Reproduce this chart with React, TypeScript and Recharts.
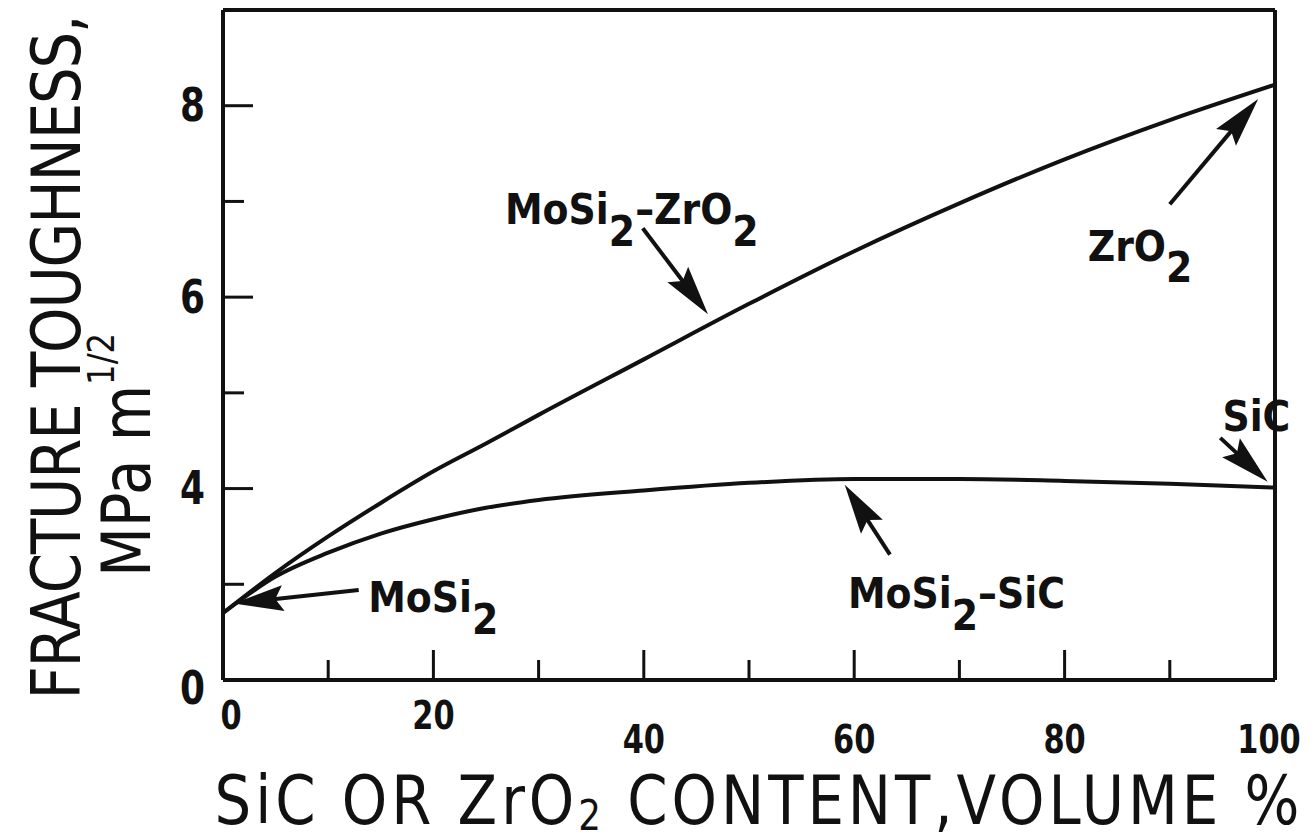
import { LineChart, Line, XAxis, YAxis, ReferenceLine, ReferenceDot, Label } from "recharts";

// volume % of second phase
const contentPct = [0, 5, 10, 15, 20, 25, 30, 40, 50, 60, 70, 80, 90, 100];
// fracture toughness, MPa m^1/2
const zro2Toughness = [2.7, 3.12, 3.5, 3.85, 4.18, 4.47, 4.77, 5.35, 5.93, 6.48, 6.98, 7.44, 7.85, 8.22];
const sicToughness = [2.7, 3.08, 3.33, 3.53, 3.68, 3.8, 3.88, 3.98, 4.06, 4.1, 4.1, 4.08, 4.05, 4.01];

const xTicks = [0, 10, 20, 30, 40, 50, 60, 70, 80, 90, 100];
const xTickLabels = ["0", "", "20", "", "40", "", "60", "", "80", "", "100"];
// the axis is broken below 3: the bottom edge carries the "0" label
const yTicks = [2, 3, 4, 5, 6, 7, 8];
const yTickLabels = ["0", "", "4", "", "6", "", "8"];

const data = contentPct.map((x, i) => ({ x, zro2: zro2Toughness[i], sic: sicToughness[i] }));

const FONT = "'DejaVu Sans', sans-serif";
const INK = "#111";
// no condensed face installed, so glyphs are squeezed horizontally
const SQUEEZE = 0.78;
const TITLE_SQUEEZE = 0.85;

const XTick = (p: any) => {
  const v = p.payload.value;
  const label = xTickLabels[xTicks.indexOf(v)];
  const major = label !== "";
  const low = v >= 30;
  return (
    <g>
      {v > 0 && v < 100 && (
        <line x1={p.x} x2={p.x} y1={p.y} y2={p.y - (major ? 30 : 20)} stroke={INK} strokeWidth={3} />
      )}
      <text
        transform={`translate(${p.x + (v === 0 ? 8 : v === 100 ? -6 : 0)} ${p.y + (low ? 60 : 36)}) scale(${SQUEEZE} 1)`}
        textAnchor="middle"
        dominantBaseline="central"
        fontFamily={FONT}
        fontWeight="bold"
        fontSize={39}
        fill={INK}
      >
        {label}
      </text>
    </g>
  );
};

const YTick = (p: any) => {
  const v = p.payload.value;
  const label = yTickLabels[yTicks.indexOf(v)];
  return (
    <g>
      {v > 2 && (
        <line x1={p.x} x2={p.x + (v % 2 === 0 ? 30 : 21)} y1={p.y} y2={p.y} stroke={INK} strokeWidth={3} />
      )}
      <text
        transform={`translate(${p.x - 18} ${p.y + (v === 2 ? 8 : 0)}) scale(${SQUEEZE} 1)`}
        textAnchor="end"
        dominantBaseline="central"
        fontFamily={FONT}
        fontWeight="bold"
        fontSize={46}
        fill={INK}
      >
        {label}
      </text>
    </g>
  );
};

const Arrow = (p: any) => {
  const { x1, y1, x2, y2 } = p;
  const dx = x2 - x1;
  const dy = y2 - y1;
  const len = Math.hypot(dx, dy) || 1;
  const ux = dx / len;
  const uy = dy / len;
  const hl = 50;
  const hw = 13;
  const bx = x2 - ux * hl;
  const by = y2 - uy * hl;
  const nx = bx + ux * 8;
  const ny = by + uy * 8;
  return (
    <g>
      <line x1={x1} y1={y1} x2={bx + ux * 10} y2={by + uy * 10} stroke={INK} strokeWidth={4} />
      <polygon
        points={`${x2},${y2} ${bx - uy * hw},${by + ux * hw} ${nx},${ny} ${bx + uy * hw},${by - ux * hw}`}
        fill={INK}
      />
    </g>
  );
};

// chemical formula with subscripted digits
const Formula = ({ parts, x, y, size }: { parts: string[]; x: number; y: number; size: number }) => (
  <text
    transform={`translate(${x} ${y}) scale(0.88 1)`}
    fontFamily={FONT}
    fontWeight="bold"
    fontSize={size}
    fill={INK}
  >
    {parts.map((s, i) =>
      /^\d$/.test(s) ? (
        <tspan key={i} dy={size * 0.5}>{s}</tspan>
      ) : i > 0 && /^\d$/.test(parts[i - 1]) ? (
        <tspan key={i} dy={-size * 0.5}>{s}</tspan>
      ) : (
        <tspan key={i}>{s}</tspan>
      )
    )}
  </text>
);

const annotations = [
  { parts: ["MoSi", "2"], at: [13.8, 2.71], from: [12.9, 2.94], to: [1.0, 2.8] },
  { parts: ["MoSi", "2", "–ZrO", "2"], at: [26.8, 6.76], from: [39.9, 6.72], to: [46.1, 5.82] },
  { parts: ["ZrO", "2"], at: [82.2, 6.38], from: [90, 6.97], to: [98.4, 8.07] },
  { parts: ["SiC"], at: [95, 4.6], from: [94.8, 4.53], to: [99.3, 4.07] },
  { parts: ["MoSi", "2", "–SiC"], at: [59.4, 2.75], from: [63.4, 3.31], to: [59.1, 4.04] },
];

export default function App() {
  return (
    <LineChart width={1300} height={832} data={data} margin={{ top: 2, right: 33, bottom: 100, left: 155 }}>
      <XAxis
        dataKey="x"
        type="number"
        domain={[0, 100]}
        ticks={xTicks}
        interval={0}
        tickSize={0}
        tickMargin={0}
        tickLine={false}
        tick={<XTick />}
        height={60}
        axisLine={{ stroke: INK, strokeWidth: 4 }}
      >
        <Label
          content={() => (
            <text
              transform={`translate(749 816) scale(${TITLE_SQUEEZE} 1)`}
              textAnchor="middle"
              fontFamily={FONT}
              fontSize={68}
              fill={INK}
              textLength={1085 / TITLE_SQUEEZE}
              lengthAdjust="spacing"
            >
              SiC OR ZrO<tspan fontSize={42} dy={6}>2</tspan>
              <tspan dy={-6}>{"  CONTENT,VOLUME %"}</tspan>
            </text>
          )}
        />
      </XAxis>
      <YAxis
        type="number"
        domain={[2, 9]}
        ticks={yTicks}
        interval={0}
        tickSize={0}
        tickMargin={0}
        tickLine={false}
        tick={<YTick />}
        width={60}
        axisLine={{ stroke: INK, strokeWidth: 4 }}
      >
        <Label
          content={() => (
            <g fontFamily={FONT} fontSize={68} fill={INK}>
              <text
                transform={`translate(72 349) rotate(-90) scale(${TITLE_SQUEEZE} 1)`}
                textAnchor="middle"
                textLength={685 / TITLE_SQUEEZE}
                lengthAdjust="spacing"
              >
                FRACTURE TOUGHNESS,
              </text>
              <text transform={`translate(142 447) rotate(-90) scale(${TITLE_SQUEEZE} 1)`} textAnchor="middle">
                MPa m<tspan fontSize={38} dy={-36}>1/2</tspan>
              </text>
            </g>
          )}
        />
      </YAxis>
      <ReferenceLine y={9} stroke={INK} strokeWidth={4} />
      <ReferenceLine x={100} stroke={INK} strokeWidth={4} />
      <Line dataKey="zro2" type="monotone" stroke={INK} strokeWidth={4} dot={false} isAnimationActive={false} />
      <Line dataKey="sic" type="monotone" stroke={INK} strokeWidth={4} dot={false} isAnimationActive={false} />
      {annotations.map((a, i) => (
        <ReferenceLine
          key={`a${i}`}
          segment={[
            { x: a.from[0], y: a.from[1] },
            { x: a.to[0], y: a.to[1] },
          ]}
          shape={<Arrow />}
        />
      ))}
      {annotations.map((a, i) => (
        <ReferenceDot
          key={`t${i}`}
          x={a.at[0]}
          y={a.at[1]}
          r={0}
          shape={(p: any) => <Formula parts={a.parts} x={p.cx} y={p.cy} size={43} />}
        />
      ))}
    </LineChart>
  );
}
